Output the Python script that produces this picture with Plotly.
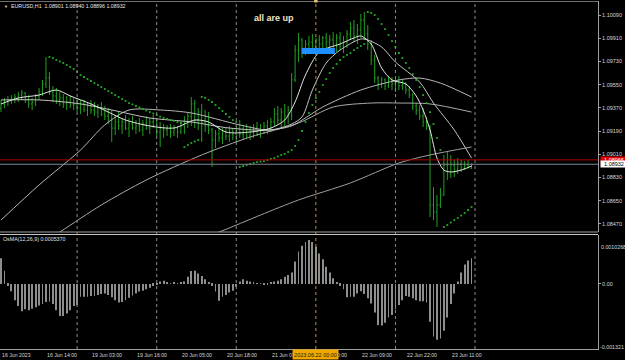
import plotly.graph_objects as go

# ---------------- data (hourly bars, index 0 = 16 Jun 2023 01:00) ----------------
header_text = "EURUSD,H1  1.08901 1.08940 1.08896 1.08932"
osma_text = "OsMA(12,26,9) 0.0005370"
note_text = "all are up"

opens = [1.09368,1.09400,1.09415,1.09431,1.09446,1.09454,1.09469,1.09485,1.09431,1.09400,
         1.09415,1.09462,1.09493,1.09555,1.09601,1.09493,1.09462,1.09431,1.09446,1.09400,
         1.09415,1.09392,1.09400,1.09368,1.09400,1.09353,1.09384,1.09353,1.09337,1.09368,
         1.09322,1.09306,1.09275,1.09213,1.09260,1.09229,1.09260,1.09213,1.09244,1.09213,
         1.09229,1.09198,1.09244,1.09213,1.09260,1.09229,1.09182,1.09213,1.09198,1.09213,
         1.09182,1.09213,1.09182,1.09229,1.09275,1.09306,1.09400,1.09275,1.09337,1.09260,
         1.09229,1.09198,1.09120,1.09167,1.09136,1.09182,1.09151,1.09198,1.09167,1.09213,
         1.09167,1.09198,1.09151,1.09182,1.09213,1.09167,1.09198,1.09229,1.09198,1.09260,
         1.09322,1.09275,1.09337,1.09306,1.09353,1.09586,1.09818,1.09896,1.09834,1.09865,
         1.09881,1.09849,1.09896,1.09865,1.09912,1.09881,1.09896,1.09865,1.09912,1.09849,
         1.09881,1.09943,1.09989,1.09927,1.09974,1.10051,1.09943,1.09865,1.09741,1.09601,
         1.09555,1.09586,1.09539,1.09586,1.09555,1.09570,1.09539,1.09555,1.09508,1.09469,
         1.09384,1.09353,1.09306,1.09260,1.09229,1.08616,1.08562,1.08616,1.08693,1.08926,
         1.08856,1.08926,1.08887,1.08934,1.08903,1.08926,1.08901]
highs = [1.09431,1.09446,1.09462,1.09469,1.09477,1.09493,1.09508,1.09493,1.09469,1.09446,
         1.09477,1.09524,1.09586,1.09764,1.09648,1.09539,1.09524,1.09493,1.09477,1.09462,
         1.09469,1.09446,1.09446,1.09431,1.09431,1.09415,1.09431,1.09415,1.09400,1.09415,
         1.09384,1.09368,1.09353,1.09314,1.09337,1.09291,1.09314,1.09291,1.09306,1.09275,
         1.09291,1.09275,1.09306,1.09291,1.09314,1.09291,1.09260,1.09244,1.09237,1.09244,
         1.09237,1.09229,1.09244,1.09306,1.09337,1.09454,1.09431,1.09368,1.09400,1.09353,
         1.09337,1.09213,1.09198,1.09229,1.09213,1.09213,1.09229,1.09213,1.09229,1.09275,
         1.09229,1.09244,1.09229,1.09244,1.09260,1.09244,1.09260,1.09275,1.09291,1.09368,
         1.09384,1.09368,1.09400,1.09384,1.09640,1.09857,1.09950,1.09912,1.09896,1.09927,
         1.09943,1.09912,1.09935,1.09927,1.09950,1.09935,1.09958,1.09943,1.09958,1.09927,
         1.09974,1.10036,1.10051,1.10020,1.10098,1.10113,1.10012,1.09896,1.09780,1.09617,
         1.09609,1.09601,1.09617,1.09609,1.09601,1.09617,1.09586,1.09570,1.09539,1.09485,
         1.09407,1.09392,1.09368,1.09299,1.09237,1.08755,1.08693,1.08748,1.09004,1.09027,
         1.09004,1.08965,1.08980,1.08965,1.08957,1.08965,1.08940]
lows = [1.09337,1.09368,1.09384,1.09400,1.09407,1.09415,1.09431,1.09407,1.09368,1.09353,
        1.09384,1.09431,1.09462,1.09524,1.09469,1.09415,1.09400,1.09384,1.09368,1.09353,
        1.09368,1.09353,1.09337,1.09322,1.09337,1.09306,1.09322,1.09306,1.09291,1.09306,
        1.09275,1.09244,1.09105,1.09159,1.09198,1.09167,1.09198,1.09143,1.09198,1.09167,
        1.09182,1.09151,1.09198,1.09167,1.09213,1.09151,1.09066,1.09136,1.09151,1.09136,
        1.09151,1.09136,1.09167,1.09167,1.09213,1.09229,1.09213,1.09198,1.09105,1.09182,
        1.09167,1.08911,1.09058,1.09105,1.09089,1.09120,1.09105,1.09120,1.09105,1.09136,
        1.09120,1.09136,1.09120,1.09136,1.09151,1.09136,1.09167,1.09167,1.09182,1.09229,
        1.09244,1.09213,1.09229,1.09244,1.09275,1.09570,1.09725,1.09756,1.09780,1.09803,
        1.09818,1.09803,1.09818,1.09803,1.09834,1.09818,1.09834,1.09803,1.09818,1.09795,
        1.09834,1.09896,1.09881,1.09865,1.09912,1.09896,1.09818,1.09702,1.09562,1.09508,
        1.09524,1.09508,1.09524,1.09508,1.09493,1.09508,1.09508,1.09477,1.09446,1.09353,
        1.09314,1.09275,1.09221,1.09198,1.08523,1.08499,1.08445,1.08593,1.08686,1.08810,
        1.08825,1.08833,1.08856,1.08872,1.08887,1.08903,1.08896]
closes = [1.09400,1.09415,1.09431,1.09446,1.09454,1.09469,1.09485,1.09431,1.09400,1.09415,
          1.09462,1.09493,1.09555,1.09601,1.09493,1.09462,1.09431,1.09446,1.09400,1.09415,
          1.09392,1.09400,1.09368,1.09400,1.09353,1.09384,1.09353,1.09337,1.09368,1.09322,
          1.09306,1.09275,1.09213,1.09260,1.09229,1.09260,1.09213,1.09244,1.09213,1.09229,
          1.09198,1.09244,1.09213,1.09260,1.09229,1.09182,1.09213,1.09198,1.09213,1.09182,
          1.09213,1.09182,1.09229,1.09275,1.09306,1.09400,1.09275,1.09337,1.09260,1.09229,
          1.09198,1.09120,1.09167,1.09136,1.09182,1.09151,1.09198,1.09167,1.09213,1.09167,
          1.09198,1.09151,1.09182,1.09213,1.09167,1.09198,1.09229,1.09198,1.09260,1.09322,
          1.09275,1.09337,1.09306,1.09353,1.09586,1.09818,1.09896,1.09834,1.09865,1.09881,
          1.09849,1.09896,1.09865,1.09912,1.09881,1.09896,1.09865,1.09912,1.09849,1.09881,
          1.09943,1.09989,1.09927,1.09974,1.10051,1.09943,1.09865,1.09741,1.09601,1.09555,
          1.09586,1.09539,1.09586,1.09555,1.09570,1.09539,1.09555,1.09508,1.09469,1.09384,
          1.09353,1.09306,1.09260,1.09229,1.08616,1.08562,1.08616,1.08693,1.08926,1.08856,
          1.08926,1.08887,1.08934,1.08903,1.08926,1.08903,1.08932]

osma = [0.00054,0.00028,-0.00004,-0.00015,-0.00034,-0.00046,-0.00057,-0.00053,-0.00055,-0.00052,
        -0.00049,-0.00045,-0.00042,-0.00038,-0.00037,-0.00042,-0.00055,-0.00067,-0.00067,-0.00062,
        -0.00055,-0.00046,-0.00044,-0.00027,-0.00027,-0.00027,-0.00025,-0.00025,-0.00023,-0.00021,
        -0.00020,-0.00023,-0.00028,-0.00034,-0.00039,-0.00038,-0.00034,-0.00029,-0.00024,-0.00020,
        -0.00016,-0.00014,-0.00011,-0.00008,-0.00004,-0.00001,0.00005,0.00007,0.00003,0.00001,
        0.00003,0.00001,0.00003,0.00005,0.00015,0.00027,0.00028,0.00022,0.00017,0.00010,
        0.00003,-0.00004,-0.00016,-0.00035,-0.00027,-0.00023,-0.00018,-0.00014,-0.00006,0.00005,
        0.00010,0.00007,0.00005,0.00003,0.00001,0.00001,-0.00001,-0.00002,0.00003,0.00005,
        0.00007,0.00010,0.00015,0.00019,0.00024,0.00047,0.00068,0.00080,0.00088,0.00092,
        0.00088,0.00078,0.00064,0.00052,0.00036,0.00024,0.00012,0.00003,-0.00004,-0.00011,
        -0.00028,-0.00027,-0.00027,-0.00020,-0.00015,-0.00021,-0.00030,-0.00041,-0.00060,-0.00086,
        -0.00087,-0.00081,-0.00070,-0.00065,-0.00053,-0.00044,-0.00034,-0.00025,-0.00027,-0.00030,
        -0.00034,-0.00036,-0.00036,-0.00039,-0.00079,-0.00110,-0.00117,-0.00114,-0.00098,-0.00070,
        -0.00042,-0.00020,0.00005,0.00024,0.00041,0.00049,0.000537]

sar_start = 14
sar = [1.09764,1.09756,1.09741,1.09729,1.09718,1.09702,1.09687,1.09671,1.09648,1.09624,
       1.09609,1.09593,1.09578,1.09562,1.09547,1.09531,1.09516,1.09500,1.09485,1.09469,
       1.09454,1.09438,1.09423,1.09407,1.09396,1.09384,1.09372,1.09361,1.09349,1.09337,
       1.09326,1.09314,1.09302,1.09291,1.09283,1.09275,1.09268,1.09260,1.09252,
       1.09066,1.09081,1.09097,1.09109,1.09120,
       1.09454,1.09446,1.09431,1.09415,1.09392,1.09368,1.09345,1.09322,1.09299,1.09275,1.09260,
       1.08911,1.08918,1.08926,1.08934,1.08942,1.08949,1.08953,1.08957,1.08965,1.08973,
       1.08980,1.08992,1.09004,1.09012,1.09027,1.09043,1.09074,1.09120,1.09190,1.09260,
       1.09330,1.09392,1.09446,1.09493,1.09547,1.09593,1.09640,1.09679,1.09710,1.09741,
       1.09764,1.09780,1.09795,1.09818,1.09834,1.09849,1.09865,
       1.10113,1.10106,1.10090,1.10059,1.10020,1.09981,1.09935,1.09888,1.09842,1.09795,
       1.09756,1.09718,1.09679,1.09632,1.09586,1.09531,1.09469,1.09407,1.09337,1.09244,
       1.09136,1.09043,
       1.08445,1.08461,1.08480,1.08499,1.08515,1.08534,1.08554,1.08577,1.08600]

ma1_idx = [0,5,11,16,20,26,31,36,43,50,56,60,65,72,78,82,85,88,92,98,102,104,107,110,113,117,120,122,124,126,128,130,133,136]
ma1 = [1.09400,1.09446,1.09469,1.09508,1.09462,1.09400,1.09337,1.09275,1.09229,1.09213,
       1.09275,1.09260,1.09182,1.09182,1.09213,1.09275,1.09415,1.09624,1.09803,1.09865,
       1.09912,1.09927,1.09865,1.09679,1.09586,1.09555,1.09462,1.09353,1.09198,1.08980,
       1.08887,1.08872,1.08887,1.08918]
ma2_idx = [0,11,23,32,43,55,66,78,84,87,90,94,98,104,106,110,114,121,125,131,136]
ma2 = [1.09431,1.09431,1.09400,1.09353,1.09291,1.09260,1.09213,1.09198,1.09244,1.09299,
       1.09508,1.09718,1.09818,1.09904,1.09896,1.09842,1.09725,1.09570,1.09407,1.09198,1.08980]
ma3_idx = [0,11,23,30,37,46,55,69,77,84,87,93,104,115,121,127,136]
ma3 = [1.08499,1.08771,1.09043,1.09237,1.09353,1.09353,1.09330,1.09237,1.09198,1.09229,
       1.09275,1.09376,1.09508,1.09586,1.09601,1.09562,1.09454]
ma4_idx = [0,17,29,42,58,72,86,96,107,115,124,136]
ma4 = [1.08112,1.08406,1.08616,1.08810,1.09004,1.09143,1.09252,1.09376,1.09407,1.09407,1.09400,1.09337]
ma5_idx = [40,63,75,86,101,115,124,136]
ma5 = [1.08189,1.08406,1.08538,1.08655,1.08787,1.08942,1.09004,1.09066]

price_ticks = [1.10090,1.09910,1.09730,1.09550,1.09370,1.09190,1.09010,1.08830,1.08650,1.08470]
time_tick_idx = [0,13,26,39,52,65,78,91,104,117,130]
time_tick_text = ["16 Jun 2023","16 Jun 14:00","19 Jun 03:00","19 Jun 16:00","20 Jun 05:00",
                  "20 Jun 18:00","21 Jun 07:00","21 Jun 20:00","22 Jun 09:00","22 Jun 22:00","23 Jun 11:00"]
grid_idx = [22,45,68,114,137]
vline_idx = 91
vline_text = "2023.06.22 00:00"
bid_price = 1.08932
ask_price = 1.08966
osma_max_text = "0.0010268"
osma_min_text = "-0.001321"
rect_t = [86.9, 96.5]
rect_p = [1.09787, 1.09834]
note_pos = (79, 1.10063)

# ---------------- layout helpers ----------------
W, H = 625, 360
PL, PR, PT, PB = 0, 27, 1, 11
PW, PH = W - PL - PR, H - PT - PB


def fx(px):
    return (px - PL) / PW


def fy(py):
    return (H - PB - py) / PH


FONT = "Liberation Sans"
AX = "#A0A0A0"
TXT = "#D8D8D8"
GREEN = "#20A020"

idx = list(range(len(closes)))
fig = go.Figure()

fig.add_trace(go.Ohlc(x=idx, open=opens, high=highs, low=lows, close=closes,
                      increasing=dict(line=dict(color=GREEN, width=1)),
                      decreasing=dict(line=dict(color=GREEN, width=1)),
                      tickwidth=0.3, xaxis="x", yaxis="y", hoverinfo="skip"))

for xs, ys, col in [(ma5_idx, ma5, "#A0A0A0"), (ma4_idx, ma4, "#ABABAB"),
                    (ma3_idx, ma3, "#B8B8B8"), (ma2_idx, ma2, "#C4C4C4"),
                    (ma1_idx, ma1, "#E6E6E6")]:
    fig.add_trace(go.Scatter(x=xs, y=ys, mode="lines",
                             line=dict(color=col, width=1, shape="spline", smoothing=0.8),
                             xaxis="x", yaxis="y", hoverinfo="skip"))

fig.add_trace(go.Scatter(x=list(range(sar_start, sar_start + len(sar))), y=sar, mode="markers",
                         marker=dict(symbol="square", size=1.8, color="#22B022", line=dict(width=0)),
                         xaxis="x", yaxis="y", hoverinfo="skip"))

fig.add_trace(go.Bar(x=idx, y=osma, width=0.24, marker=dict(color="#8E8E8E", line=dict(width=0)),
                     xaxis="x", yaxis="y2", hoverinfo="skip"))

x_lo = (PL - 1) / 3.46
x_hi = (PL + PW - 1) / 3.46

fig.update_layout(
    width=W, height=H, margin=dict(l=PL, r=PR, t=PT, b=PB),
    paper_bgcolor="black", plot_bgcolor="black", showlegend=False,
    font=dict(family=FONT, size=5.5, color=TXT),
    xaxis=dict(range=[x_lo, x_hi], anchor="y2", showgrid=False, zeroline=False,
               showticklabels=False, ticks="", showline=True, linecolor=AX, linewidth=1,
               rangeslider=dict(visible=False), fixedrange=True),
    yaxis=dict(domain=[fy(232), 1.0], range=[1.0840639, 1.1019862], side="right",
               tickvals=price_ticks, ticktext=["%.5f" % v for v in price_ticks],
               ticks="outside", ticklen=2, tickcolor=AX, showgrid=False, zeroline=False,
               showline=True, linecolor=AX, linewidth=1,
               tickfont=dict(family=FONT, size=5.5, color=TXT)),
    yaxis2=dict(domain=[0.0, fy(235)], range=[-0.0013627, 0.0010268], side="right",
                tickvals=[0.0], ticktext=["0.00"], ticks="outside", ticklen=2, tickcolor=AX,
                showgrid=False, zeroline=False, showline=True, linecolor=AX, linewidth=1,
                tickfont=dict(family=FONT, size=5.5, color=TXT)),
)

shapes = []
for g in grid_idx:
    shapes.append(dict(type="line", xref="x", yref="paper", x0=g, x1=g, y0=0, y1=1,
                       line=dict(color="#8C8C8C", width=1, dash="dot")))
shapes.append(dict(type="line", xref="x", yref="paper", x0=vline_idx, x1=vline_idx, y0=0, y1=1,
                   line=dict(color="#C08A48", width=1, dash="dot")))
shapes.append(dict(type="line", xref="paper", yref="paper", x0=0, x1=1, y0=fy(232), y1=fy(232),
                   line=dict(color=AX, width=1)))
shapes.append(dict(type="line", xref="paper", yref="paper", x0=0, x1=1, y0=fy(234.5), y1=fy(234.5),
                   line=dict(color="#C8C8C8", width=1)))
shapes.append(dict(type="line", xref="paper", yref="paper", x0=0, x1=1, y0=fy(1.5), y1=fy(1.5),
                   line=dict(color="#707070", width=1)))
shapes.append(dict(type="line", xref="paper", yref="y", x0=0, x1=1, y0=ask_price, y1=ask_price,
                   line=dict(color="#B00000", width=1)))
shapes.append(dict(type="line", xref="paper", yref="y", x0=0, x1=1, y0=bid_price, y1=bid_price,
                   line=dict(color="#7D8896", width=1)))
shapes.append(dict(type="rect", xref="x", yref="y", x0=rect_t[0], x1=rect_t[1], y0=rect_p[0], y1=rect_p[1],
                   fillcolor="#1E90FF", line=dict(width=0)))
shapes.append(dict(type="rect", xref="x", yref="paper", x0=vline_idx - 0.5, x1=vline_idx + 0.5,
                   y0=fy(2.5), y1=fy(0), fillcolor="#E8C070", line=dict(width=0)))
fig.update_layout(shapes=shapes)

ann = []
ann.append(dict(xref="paper", yref="paper", x=fx(2), y=fy(6.5), text="▼", showarrow=False,
                xanchor="left", yanchor="middle", font=dict(size=4, color="#E0E0E0")))
ann.append(dict(xref="paper", yref="paper", x=fx(9), y=fy(6.5), text=header_text, showarrow=False,
                xanchor="left", yanchor="middle", font=dict(size=5.3, color="#E6E6E6")))
ann.append(dict(xref="paper", yref="paper", x=fx(1), y=fy(238.5), text=osma_text, showarrow=False,
                xanchor="left", yanchor="middle", font=dict(size=5.3, color="#E0E0E0")))
ann.append(dict(xref="x", yref="y", x=note_pos[0], y=note_pos[1], text="<b>%s</b>" % note_text,
                showarrow=False, xanchor="center", yanchor="middle",
                font=dict(size=9, color="#F2E4C8")))
for i, t in zip(time_tick_idx, time_tick_text):
    ann.append(dict(xref="x", yref="paper", x=i, y=fy(354.5), text=t, showarrow=False,
                    xanchor="left", yanchor="middle", borderpad=0,
                    font=dict(size=5.2, color=TXT)))
ann.append(dict(xref="x", yref="paper", x=vline_idx, y=fy(354.5), text=vline_text, showarrow=False,
                xanchor="center", yanchor="middle", bgcolor="#F0A800", width=45, height=9, borderpad=0,
                font=dict(size=5.5, color="#1A1A1A")))
ann.append(dict(xref="paper", yref="paper", x=fx(599.5), y=fy(246.5), text=osma_max_text, showarrow=False,
                xanchor="left", yanchor="middle", borderpad=0, font=dict(size=5.3, color=TXT)))
ann.append(dict(xref="paper", yref="paper", x=fx(599), y=fy(346.5), text=osma_min_text, showarrow=False,
                xanchor="left", yanchor="middle", borderpad=0, font=dict(size=5.3, color=TXT)))
ann.append(dict(xref="paper", yref="y", x=fx(599.5), y=ask_price, text="%.5f" % ask_price, showarrow=False,
                xanchor="left", yanchor="middle", bgcolor="#E00000", width=26, height=5, borderpad=0,
                font=dict(size=5.5, color="#FFFFFF")))
ann.append(dict(xref="paper", yref="y", x=fx(599.5), y=bid_price, text="%.5f" % bid_price, showarrow=False,
                xanchor="left", yanchor="middle", bgcolor="#FFFFFF", width=26, height=6, borderpad=0,
                font=dict(size=5.5, color="#000000")))
fig.update_layout(annotations=ann)

fig.write_html("out.html")
